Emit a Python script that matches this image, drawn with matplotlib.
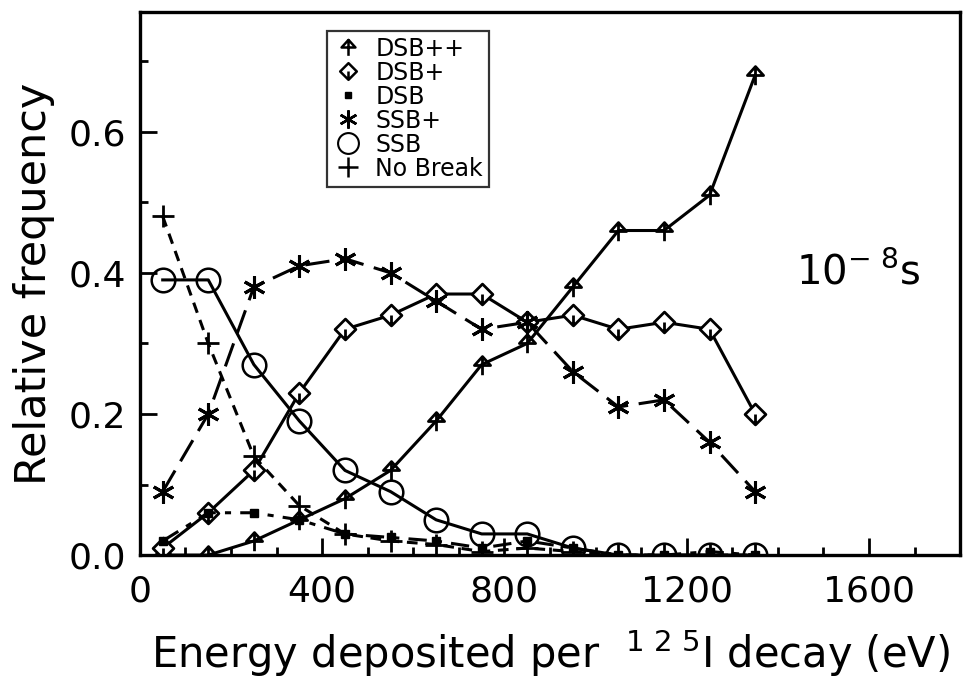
import matplotlib
matplotlib.use('Agg')
import matplotlib.pyplot as plt
from matplotlib.path import Path
from matplotlib.lines import Line2D

plt.rcParams['font.family'] = ['DejaVu Sans']
plt.rcParams['mathtext.fontset'] = 'custom'
plt.rcParams['mathtext.rm'] = 'DejaVu Sans'
plt.rcParams['mathtext.it'] = 'DejaVu Sans'
plt.rcParams['mathtext.default'] = 'regular'

energia = [50, 150, 250, 350, 450, 550, 650, 750, 850, 950, 1050, 1150, 1250, 1350]

dsb_pp = [0.00, 0.00, 0.02, 0.05, 0.08, 0.12, 0.19, 0.27, 0.30, 0.38, 0.46, 0.46, 0.51, 0.68]
dsb_p = [0.01, 0.06, 0.12, 0.23, 0.32, 0.34, 0.37, 0.37, 0.33, 0.34, 0.32, 0.33, 0.32, 0.20]
dsb = [0.02, 0.06, 0.06, 0.05, 0.03, 0.025, 0.02, 0.01, 0.02, 0.01, 0.0, 0.0, 0.005, 0.0]
ssb_p = [0.09, 0.20, 0.38, 0.41, 0.42, 0.40, 0.36, 0.32, 0.33, 0.26, 0.21, 0.22, 0.16, 0.09]
ssb = [0.39, 0.39, 0.27, 0.19, 0.12, 0.09, 0.05, 0.03, 0.03, 0.01, 0.0, 0.0, 0.0, 0.0]
no_break = [0.48, 0.30, 0.14, 0.07, 0.03, 0.02, 0.015, 0.005, 0.01, 0.005, 0.0, 0.0, 0.0, 0.0]

# marcadores feitos a mao: triangulo com haste, losango com traco
seta = Path([(-0.5, 0.0), (0.0, 0.55), (0.5, 0.0), (-0.5, 0.0), (0.0, 0.55), (0.0, -0.6)],
            [Path.MOVETO, Path.LINETO, Path.LINETO, Path.CLOSEPOLY, Path.MOVETO, Path.LINETO])
losango = Path([(0.0, -0.6), (0.6, 0.0), (0.0, 0.6), (-0.6, 0.0), (0.0, -0.6), (0.0, 0.0), (0.0, -0.6)],
               [Path.MOVETO, Path.LINETO, Path.LINETO, Path.LINETO, Path.CLOSEPOLY, Path.MOVETO, Path.LINETO])

fig = plt.figure(figsize=(9.65, 6.93), dpi=100)
ax = fig.add_axes([0.145, 0.199, 0.85, 0.784])

lw = 2.2
ax.plot(energia, dsb_pp, '-', color='k', lw=lw, marker=seta, ms=14, mfc='none', mew=2)
ax.plot(energia, dsb_p, '-', color='k', lw=lw, marker=losango, ms=15, mfc='white', mew=2)
ax.plot(energia, dsb, color='k', lw=lw, ls=(0, (6, 3, 2, 3)), marker='s', ms=6, mfc='k')
ax.plot(energia, ssb_p, color='k', lw=lw, ls=(0, (8, 3.5)), marker=(6, 2, 0), ms=16, mew=2.2)
ax.plot(energia, ssb, '-', color='k', lw=lw, marker='o', ms=17, mfc='none', mew=1.8)
ax.plot(energia, no_break, color='k', lw=lw, ls=(0, (3.5, 2.5)), marker='+', ms=16, mew=2)

ax.set_xlim(0, 1800)
ax.set_ylim(0, 0.77)
ax.set_xticks([0, 400, 800, 1200, 1600])
ax.set_xticks(range(0, 1801, 100), minor=True)
ax.set_yticks([0.0, 0.2, 0.4, 0.6])
ax.set_yticklabels(['0.0', '0.2', '0.4', '0.6'])
ax.set_yticks([0.1, 0.3, 0.5, 0.7], minor=True)
ax.tick_params(which='both', direction='in', width=2, labelsize=26)
ax.tick_params(which='major', length=12)
ax.tick_params(which='minor', length=6)
ax.tick_params(axis='x', pad=14)
ax.tick_params(axis='y', pad=10)
for s in ax.spines.values():
    s.set_linewidth(2.4)

ax.set_xlabel('Energy deposited per  $^{1\\ 2\\ 5}$I decay (eV)', fontsize=30, labelpad=14)
ax.set_ylabel('Relative frequency', fontsize=31, labelpad=10)

ax.text(1440, 0.40, '$10^{-\\ 8}$s', fontsize=29, va='center')

nomes = ['DSB++', 'DSB+', 'DSB', 'SSB+', 'SSB', 'No Break']
alcas = [
    Line2D([], [], ls='none', color='k', marker=seta, ms=12, mfc='none', mew=1.8),
    Line2D([], [], ls='none', color='k', marker=losango, ms=12, mfc='none', mew=1.8),
    Line2D([], [], ls='none', color='k', marker='s', ms=5),
    Line2D([], [], ls='none', color='k', marker=(6, 2, 0), ms=13, mew=1.8),
    Line2D([], [], ls='none', color='k', marker='o', ms=15, mfc='none', mew=1.5),
    Line2D([], [], ls='none', color='k', marker='+', ms=15, mew=1.8),
]
leg = ax.legend(alcas, nomes, loc='upper left', bbox_to_anchor=(0.228, 0.965), fontsize=17,
                frameon=True, fancybox=False, edgecolor='k', handlelength=1.3,
                handletextpad=0.5, labelspacing=0.0, borderpad=0.25, borderaxespad=0)
leg.get_frame().set_linewidth(1.6)

plt.savefig('out.png', dpi=100)
